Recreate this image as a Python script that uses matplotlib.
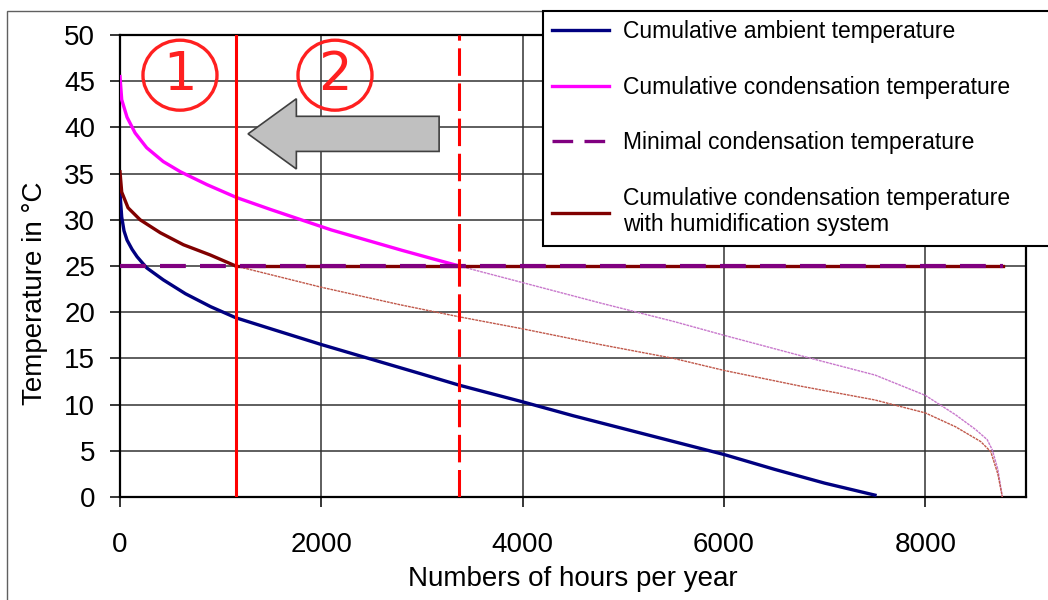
import matplotlib
matplotlib.use("Agg")
import matplotlib.pyplot as plt
from matplotlib.patches import Ellipse, FancyArrow, Rectangle
from matplotlib.lines import Line2D

plt.rcParams["font.family"] = ["Liberation Sans", "DejaVu Sans"]

# cumulative ambient temperature (sorted duration curve)
ambient_hours = [0, 17, 40, 70, 120, 170, 265, 430, 650, 900, 1150, 1500, 2000,
                 2500, 3000, 3370, 4000, 4500, 5000, 5500, 6000, 6500, 7000, 7500]
ambient_temp = [32.9, 30.3, 28.8, 27.8, 26.8, 26.0, 24.8, 23.5, 22.0, 20.6, 19.4,
                18.2, 16.5, 14.9, 13.3, 12.1, 10.3, 8.8, 7.4, 6.0, 4.6, 3.0, 1.5, 0.2]

# cumulative condensation temperature
cond_hours = [0, 17, 70, 150, 265, 430, 600, 865, 1160, 1500, 1800, 2100, 2450,
              2800, 3100, 3370, 4000, 4770, 5500, 6000, 6760, 7500, 8000, 8300,
              8500, 8615, 8665, 8720, 8765]
cond_temp = [45.5, 43.0, 41.1, 39.4, 37.8, 36.3, 35.2, 33.8, 32.4, 31.1, 30.0,
             28.9, 27.8, 26.7, 25.8, 25.0, 23.2, 21.0, 19.0, 17.5, 15.3, 13.2,
             11.0, 8.9, 7.3, 6.2, 5.1, 3.0, 0.0]

# cumulative condensation temperature with humidification system
humid_hours = [0, 17, 80, 200, 400, 630, 895, 1150, 2000, 2785, 3370, 4000, 4770,
               5500, 6000, 6760, 7500, 8000, 8300, 8550, 8650, 8720, 8765]
humid_temp = [35.2, 33.0, 31.3, 30.0, 28.6, 27.3, 26.2, 25.0, 22.7, 20.8, 19.5,
              18.2, 16.5, 15.0, 13.7, 12.0, 10.5, 9.1, 7.6, 6.0, 4.9, 2.5, 0.0]

min_cond_temp = 25
hours_end = 8775
limit_1 = 1150   # humidification system threshold
limit_2 = 3370   # without humidification

labels = [
    "Cumulative ambient temperature",
    "Cumulative condensation temperature",
    "Minimal condensation temperature",
    "Cumulative condensation temperature\nwith humidification system",
]

fig = plt.figure(figsize=(10.48, 6), dpi=100)
ax = fig.add_axes([120 / 1048, 1 - 497 / 600, 906 / 1048, 462 / 600])

# split curves into the part above the minimum (thick) and below (thin)
i2 = cond_hours.index(limit_2)
i1 = humid_hours.index(limit_1)

ax.plot(cond_hours[i2:], cond_temp[i2:], color="#c878cc", lw=1.0,
        ls=(0, (2, 0.6)), zorder=3)
ax.plot(humid_hours[i1:], humid_temp[i1:], color="#c0584a", lw=1.0,
        ls=(0, (2, 0.6)), zorder=3)

ax.plot(ambient_hours, ambient_temp, color="#000080", lw=2.4, zorder=4)
ax.plot(cond_hours[:i2 + 1], cond_temp[:i2 + 1], color="#ff00ff", lw=2.4, zorder=4)
ax.plot(humid_hours[:i1 + 1], humid_temp[:i1 + 1], color="#800000", lw=2.4, zorder=4)
ax.plot([limit_1, hours_end], [min_cond_temp, min_cond_temp], color="#800000",
        lw=2.4, zorder=4)
ax.plot([0, hours_end], [min_cond_temp, min_cond_temp], color="#800080", lw=3,
        dashes=(6.2, 3.4), zorder=5)

ax.axvline(limit_1, color="#ff0000", lw=2.2, zorder=6)
ax.axvline(limit_2, color="#ff0000", lw=2.2, dashes=(9, 2.5), zorder=6)

ax.set_xlim(0, 9000)
ax.set_ylim(0, 50)
ax.set_xticks([0, 2000, 4000, 6000, 8000])
ax.set_yticks(range(0, 51, 5))
ax.grid(True, color="#333333", lw=1.1)
ax.set_axisbelow(True)
for s in ax.spines.values():
    s.set_linewidth(1.6)
    s.set_color("black")
ax.tick_params(direction="out", length=7, width=1.1, labelsize=20)
ax.tick_params(axis="x", pad=18)
ax.tick_params(axis="y", pad=11)
ax.set_xlabel("Numbers of hours per year", fontsize=20, labelpad=6)
ax.set_ylabel("Temperature in °C", fontsize=20)
ax.yaxis.set_label_coords(-0.08, 0.44)

# region markers
for cx, num in [(0.0662, "1"), (0.2373, "2")]:
    ax.add_patch(Ellipse((cx, 0.913), 0.0817, 0.1515, transform=ax.transAxes,
                         fill=False, edgecolor="#ff2020", lw=2.4, zorder=7))
    ax.text(cx, 0.913, num, transform=ax.transAxes, color="#ff2020",
            fontsize=38, ha="center", va="center", family="DejaVu Sans",
            zorder=7)

ax.add_patch(FancyArrow(3170, 39.3, -1898, 0, width=3.8, head_width=7.6,
                        head_length=480, length_includes_head=True,
                        facecolor="#c0c0c0", edgecolor="#404040", lw=1.2,
                        zorder=7))

handles = [
    Line2D([], [], color="#000080", lw=2.4),
    Line2D([], [], color="#ff00ff", lw=2.4),
    Line2D([], [], color="#800080", lw=2.4, dashes=(6.2, 3.4)),
    Line2D([], [], color="#800000", lw=2.4),
]
leg = fig.legend(handles, labels, loc="upper left",
                 bbox_to_anchor=(543 / 1048, 0, 0.56, 1 - 11 / 600),
                 bbox_transform=fig.transFigure, borderaxespad=0,
                 mode="expand", fontsize=16.5, handlelength=2.5,
                 handletextpad=0.6, labelspacing=1.42, borderpad=0.4,
                 fancybox=False, framealpha=1, edgecolor="black")
leg.get_frame().set_linewidth(1.5)

fig.add_artist(Rectangle((7 / 1048, -0.05), 1.1, 1 - 11 / 600 + 0.05,
                         transform=fig.transFigure, fill=False,
                         edgecolor="#606060", lw=1.0, zorder=-1))

fig.savefig("out.png", dpi=100)
